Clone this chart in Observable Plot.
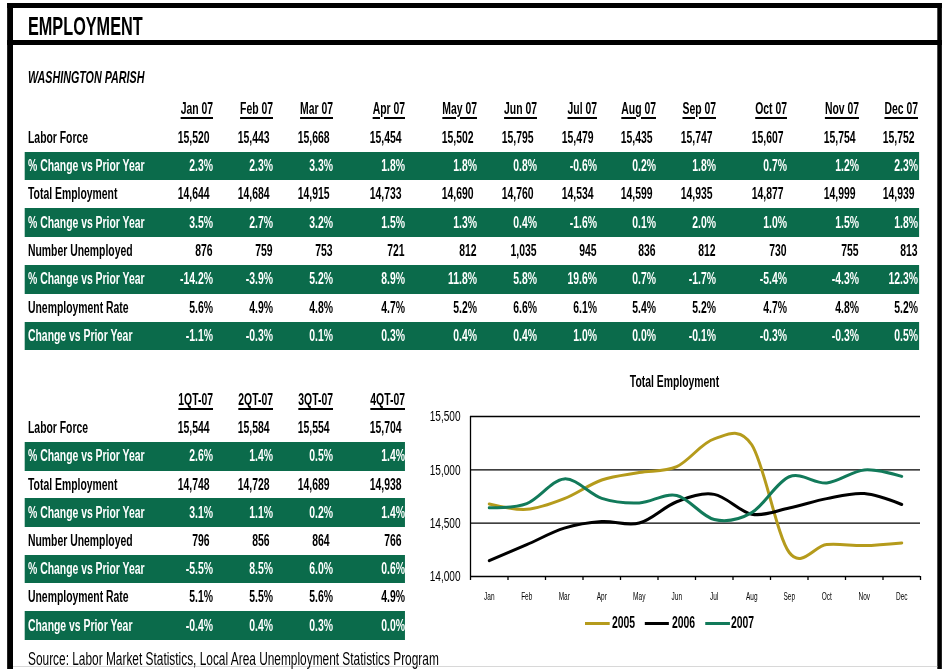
<!DOCTYPE html>
<html>
<head>
<meta charset="utf-8">
<script src="https://cdn.jsdelivr.net/npm/d3@7"></script>
<script src="https://cdn.jsdelivr.net/npm/@observablehq/plot@0.6"></script>
<style>
  html, body { margin: 0; padding: 0; background: #fff; overflow: hidden; }
  body { position: relative; width: 944px; height: 669px; }
  #page { position: absolute; left: 0; top: 0; width: 1453px; height: 669px; transform: scaleX(0.65); transform-origin: 0 0;
    font-family: "Liberation Sans", Arial, sans-serif; color: #000; }
  .abs { position: absolute; white-space: nowrap; }
</style>
</head>
<body>
<div id="page"></div>
<script>
// ---------- data ----------
const monthHeaders = ["Jan 07","Feb 07","Mar 07","Apr 07","May 07","Jun 07","Jul 07","Aug 07","Sep 07","Oct 07","Nov 07","Dec 07"];
const rowLabels = ["Labor Force","% Change vs Prior Year","Total Employment","% Change vs Prior Year","Number Unemployed","% Change vs Prior Year","Unemployment Rate","Change vs Prior Year"];
const laborForce    = [15520,15443,15668,15454,15502,15795,15479,15435,15747,15607,15754,15752];
const laborForceChg = [2.3,2.3,3.3,1.8,1.8,0.8,-0.6,0.2,1.8,0.7,1.2,2.3];
const totalEmp      = [14644,14684,14915,14733,14690,14760,14534,14599,14935,14877,14999,14939];
const totalEmpChg   = [3.5,2.7,3.2,1.5,1.3,0.4,-1.6,0.1,2.0,1.0,1.5,1.8];
const unemployed    = [876,759,753,721,812,1035,945,836,812,730,755,813];
const unemployedChg = [-14.2,-3.9,5.2,8.9,11.8,5.8,19.6,0.7,-1.7,-5.4,-4.3,12.3];
const unempRate     = [5.6,4.9,4.8,4.7,5.2,6.6,6.1,5.4,5.2,4.7,4.8,5.2];
const unempRateChg  = [-1.1,-0.3,0.1,0.3,0.4,0.4,1.0,0.0,-0.1,-0.3,-0.3,0.5];

const quarterHeaders = ["1QT-07","2QT-07","3QT-07","4QT-07"];
const qLaborForce    = [15544,15584,15554,15704];
const qLaborForceChg = [2.6,1.4,0.5,1.4];
const qTotalEmp      = [14748,14728,14689,14938];
const qTotalEmpChg   = [3.1,1.1,0.2,1.4];
const qUnemployed    = [796,856,864,766];
const qUnemployedChg = [-5.5,8.5,6.0,0.6];
const qUnempRate     = [5.1,5.5,5.6,4.9];
const qUnempRateChg  = [-0.4,0.4,0.3,0.0];

const chartMonths = ["Jan","Feb","Mar","Apr","May","Jun","Jul","Aug","Sep","Oct","Nov","Dec"];
const years = ["2005","2006","2007"];
const emp2005 = [14680,14630,14730,14905,14975,15030,15290,15235,14225,14300,14290,14315];
const emp2006 = [14149,14298,14453,14515,14501,14701,14770,14584,14642,14730,14777,14675];
const emp2007 = [14644,14684,14915,14733,14690,14760,14534,14599,14935,14877,14999,14939];
const yTicks = [14000,14500,15000,15500];

// ---------- helpers ----------
const S = 0.65;
const X = v => v / S;
const GREEN = "#0b6b4b";
const GOLD = "#b59b1c";
const LINEGREEN = "#127a5a";
const FONT = '"Liberation Sans", Arial, sans-serif';
const page = document.getElementById("page");
const fmtN = d3.format(",");
const fmtP = v => v.toFixed(1) + "%";

function rect(x, y, w, h, color) {
  const d = document.createElement("div");
  d.className = "abs";
  Object.assign(d.style, {left: X(x) + "px", top: y + "px", width: X(w) + "px", height: h + "px", background: color});
  page.appendChild(d);
  return d;
}
function txt(str, x, yc, o = {}) {
  const size = o.size || 16;
  const d = document.createElement("div");
  d.className = "abs";
  d.textContent = str;
  const align = o.align || "left";
  const st = {top: (yc - 0.49 * size) + "px", fontSize: size + "px", lineHeight: size + "px",
    fontWeight: o.weight || "bold", fontStyle: o.italic ? "italic" : "normal", color: o.color || "#000"};
  if (align === "left") st.left = X(x) + "px";
  else if (align === "right") { st.left = (X(x) - 1000) + "px"; st.width = "1000px"; st.textAlign = "right"; }
  else { st.left = (X(x) - 500) + "px"; st.width = "1000px"; st.textAlign = "center"; }
  Object.assign(d.style, st);
  if (o.underline) {
    d.textContent = "";
    const s = document.createElement("span");
    s.textContent = str;
    Object.assign(s.style, {textDecoration: "underline", textDecorationThickness: "2px", textUnderlineOffset: "3px"});
    d.appendChild(s);
  }
  page.appendChild(d);
  return d;
}

// ---------- frame ----------
rect(7, 3, 935, 5, "#000");
rect(7, 40, 935, 5, "#000");
rect(7, 3, 6, 666, "#000");
rect(937, 3, 5, 666, "#000");
rect(13, 666, 924, 1, "#d8d8d8");
txt("EMPLOYMENT", 28, 26, {size: 25});

// ---------- top table ----------
txt("WASHINGTON PARISH", 28, 77.5, {size: 16.5, italic: true});
const topCols = [213,273,333,405,477,537,597,656,716,787,859,918];
monthHeaders.forEach((h, i) => txt(h, topCols[i], 108.5, {align: "right", underline: true}));
const topRows = [
  {vals: laborForce, fmt: fmtN, pad: 3.5},
  {vals: laborForceChg, fmt: fmtP, pad: 0},
  {vals: totalEmp, fmt: fmtN, pad: 3.5},
  {vals: totalEmpChg, fmt: fmtP, pad: 0},
  {vals: unemployed, fmt: fmtN, pad: 0.5},
  {vals: unemployedChg, fmt: fmtP, pad: 0},
  {vals: unempRate, fmt: fmtP, pad: 0},
  {vals: unempRateChg, fmt: fmtP, pad: 0}
];
topRows.forEach((r, ri) => {
  const yc = 137.5 + ri * 28.35;
  const green = ri % 2 === 1;
  if (green) rect(25, yc - 14.2, 894, 28.5, GREEN);
  const col = green ? "#fff" : "#000";
  txt(rowLabels[ri], 28, yc, {color: col});
  r.vals.forEach((v, i) => txt(r.fmt(v), topCols[i] - r.pad, yc, {align: "right", color: col}));
});

// ---------- bottom table ----------
const botCols = [213,273,333,405];
quarterHeaders.forEach((h, i) => txt(h, botCols[i], 399.5, {align: "right", underline: true}));
const botRows = [
  {vals: qLaborForce, fmt: fmtN, pad: 3.5},
  {vals: qLaborForceChg, fmt: fmtP, pad: 0},
  {vals: qTotalEmp, fmt: fmtN, pad: 3.5},
  {vals: qTotalEmpChg, fmt: fmtP, pad: 0},
  {vals: qUnemployed, fmt: fmtN, pad: 3.5},
  {vals: qUnemployedChg, fmt: fmtP, pad: 0},
  {vals: qUnempRate, fmt: fmtP, pad: 0},
  {vals: qUnempRateChg, fmt: fmtP, pad: 0}
];
botRows.forEach((r, ri) => {
  const yc = 428 + ri * 28.2;
  const green = ri % 2 === 1;
  if (green) rect(25, yc - 14.2, 380, 28.5, GREEN);
  const col = green ? "#fff" : "#000";
  txt(rowLabels[ri], 28, yc, {color: col});
  r.vals.forEach((v, i) => txt(r.fmt(v), botCols[i] - r.pad, yc, {align: "right", color: col}));
});

txt("Source: Labor Market Statistics, Local Area Unemployment Statistics Program", 28, 659, {size: 18.3, weight: "normal"});

// ---------- chart ----------
txt("Total Employment", 674.5, 382, {align: "center", size: 16});

const seriesByYear = {"2005": emp2005, "2006": emp2006, "2007": emp2007};
const lineData = years.flatMap(yr => seriesByYear[yr].map((v, i) => ({year: yr, x: i + 0.5, value: v})));

const chart = Plot.plot({
  width: 530,
  height: 206,
  marginLeft: 70,
  marginRight: 10,
  marginTop: 16,
  marginBottom: 30,
  x: {domain: [0, 12]},
  y: {domain: [14000, 15500]},
  color: {domain: years, range: [GOLD, "#000", LINEGREEN]},
  style: {fontFamily: FONT, color: "#000", background: "transparent", overflow: "visible"},
  marks: [
    Plot.ruleY(yTicks, {stroke: "#000", strokeWidth: 1.3}),
    Plot.ruleX([0], {stroke: "#000", strokeWidth: 1.3}),
    Plot.axisX({ticks: d3.range(13), tickSize: 4, tickFormat: () => "", label: null, stroke: "#000", strokeWidth: 1.3}),
    Plot.axisX({ticks: d3.range(12).map(i => i + 0.5), tickSize: 0, tickPadding: 16, tickFormat: d => chartMonths[Math.floor(d)], label: null, fontSize: 10}),
    Plot.axisY({ticks: yTicks, tickSize: 0, tickPadding: 10, tickFormat: fmtN, label: null, fontSize: 15.5}),
    Plot.line(lineData, {x: "x", y: "value", stroke: "year", curve: "cardinal", strokeWidth: 3})
  ]
});
const holder = document.createElement("div");
holder.className = "abs";
Object.assign(holder.style, {left: "400px", top: "400px"});
holder.appendChild(chart);
document.body.appendChild(holder);
// compress chart text horizontally like the narrow reference font
chart.querySelectorAll("text").forEach(t => {
  const L = t.getComputedTextLength();
  if (L > 0) {
    t.setAttribute("textLength", (L * S).toFixed(2));
    t.setAttribute("lengthAdjust", "spacingAndGlyphs");
  }
});

// ---------- legend ----------
const legendItems = [
  {year: "2005", color: GOLD, x0: 585, x1: 610, tx: 612},
  {year: "2006", color: "#000", x0: 645, x1: 669, tx: 672},
  {year: "2007", color: LINEGREEN, x0: 705, x1: 730, tx: 731}
];
legendItems.forEach(it => {
  rect(it.x0, 621.5, it.x1 - it.x0, 3, it.color);
  txt(it.year, it.tx, 623, {size: 16});
});
</script>
</body>
</html>
